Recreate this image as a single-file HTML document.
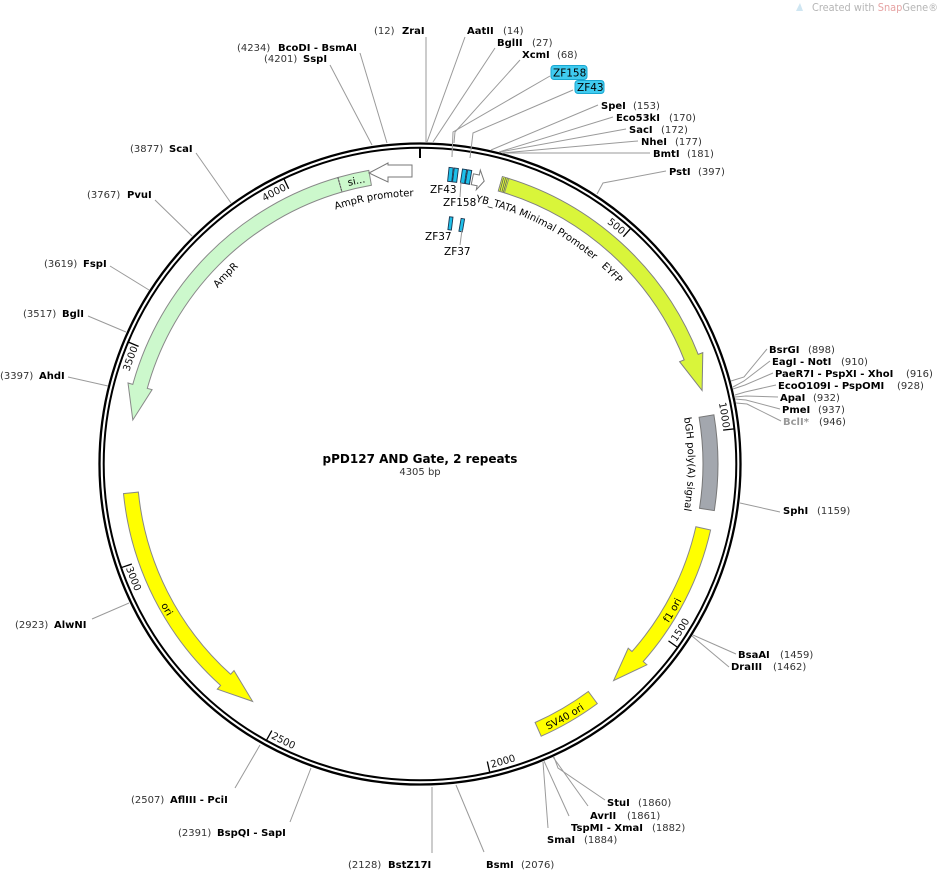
<!DOCTYPE html>
<html><head><meta charset="utf-8"><style>
html,body{margin:0;padding:0;background:#fff;}
svg{display:block;}
text{font-family:"DejaVu Sans","Liberation Sans",sans-serif;font-size:10px;}
.b{font-weight:bold;fill:#000;}
.n{fill:#333;}
.ln{stroke:#9a9a9a;stroke-width:1;fill:none;}
.ft{font-size:10px;fill:#000;}
.tk{font-size:10px;fill:#111;}
</style></head><body>
<svg width="940" height="870" viewBox="0 0 940 870" xmlns="http://www.w3.org/2000/svg">
<defs>
<path id="cw305" d="M420,159 A305,305 0 1 1 420,769 A305,305 0 1 1 420,159"/>
<path id="ccw312" d="M420,152 A312,312 0 1 0 420,776 A312,312 0 1 0 420,152"/>
<path id="cw268" d="M420,196 A268,268 0 1 1 420,732 A268,268 0 1 1 420,196"/>
<path id="cw287" d="M420,177 A287,287 0 1 1 420,751 A287,287 0 1 1 420,177"/>
<path id="ccw295" d="M420,169 A295,295 0 1 0 420,759 A295,295 0 1 0 420,169"/>
</defs>

<!-- watermark -->
<path d="M796,11 L800,3 L803,11 Z" fill="#cfe6f2"/>
<text x="812" y="11" textLength="126" lengthAdjust="spacingAndGlyphs" style="font-size:10.5px;fill:#b5b5b5">Created with <tspan fill="#e6a3a3">Snap</tspan>Gene®</text>

<!-- backbone -->
<circle cx="420" cy="464" r="320.5" fill="none" stroke="#000" stroke-width="2.3"/>
<circle cx="420" cy="464" r="316.3" fill="none" stroke="#000" stroke-width="2"/>

<!-- ticks -->
<line x1="420" y1="147" x2="420" y2="158" stroke="#000" stroke-width="2"/>
<g stroke="#000" stroke-width="1.3">
<line x1="420" y1="148" x2="420" y2="159" transform="rotate(41.81 420 464)"/>
<line x1="420" y1="148" x2="420" y2="159" transform="rotate(83.62 420 464)"/>
<line x1="420" y1="148" x2="420" y2="159" transform="rotate(125.44 420 464)"/>
<line x1="420" y1="148" x2="420" y2="159" transform="rotate(167.25 420 464)"/>
<line x1="420" y1="148" x2="420" y2="159" transform="rotate(209.06 420 464)"/>
<line x1="420" y1="148" x2="420" y2="159" transform="rotate(250.87 420 464)"/>
<line x1="420" y1="148" x2="420" y2="159" transform="rotate(292.68 420 464)"/>
<line x1="420" y1="148" x2="420" y2="159" transform="rotate(334.49 420 464)"/>
</g>
<text class="tk"><textPath href="#cw305" startOffset="220" text-anchor="end">500</textPath></text>
<text class="tk"><textPath href="#cw305" startOffset="443" text-anchor="end">1000</textPath></text>
<text class="tk"><textPath href="#ccw312" startOffset="1280">1500</textPath></text>
<text class="tk"><textPath href="#ccw312" startOffset="1052">2000</textPath></text>
<text class="tk"><textPath href="#ccw312" startOffset="824">2500</textPath></text>
<text class="tk"><textPath href="#ccw312" startOffset="596">3000</textPath></text>
<text class="tk"><textPath href="#cw305" startOffset="1556" text-anchor="end">3500</textPath></text>
<text class="tk"><textPath href="#cw305" startOffset="1778" text-anchor="end">4000</textPath></text>

<!-- features -->
<path d="M502.4,176.6 A299,299 0 0 1 698.2,354.4 L702.8,352.6 L702.1,390.5 L679.6,361.7 L684.2,359.9 A284,284 0 0 0 498.3,191.0 Z" fill="#d9f53a" stroke="#808080" stroke-width="1"/>
<path d="M502.4,176.6 L508.9,178.5 L504.5,192.8 L498.3,191.0 Z" fill="#d9f53a" stroke="#808080" stroke-width="0.8"/>
<g stroke="#555" stroke-width="0.7"><line x1="503.5" y1="178" x2="500" y2="191"/><line x1="505.5" y1="178" x2="502" y2="191.5"/><line x1="507.3" y1="178.3" x2="503.5" y2="192"/></g>
<path d="M713.9,414.8 A298,298 0 0 1 714.3,510.6 L699.5,508.3 A283,283 0 0 0 699.1,417.3 Z" fill="#a3a7ae" stroke="#777" stroke-width="1"/>
<path d="M710.6,530.0 A298,298 0 0 1 643.2,661.5 L646.9,664.8 L613.6,680.6 L628.2,648.2 L632.0,651.5 A283,283 0 0 0 695.9,526.7 Z" fill="#ffff00" stroke="#888" stroke-width="1"/>
<path d="M597.3,703.6 A298,298 0 0 1 541.2,736.2 L535.1,722.5 A283,283 0 0 0 588.3,691.5 Z" fill="#ffff00" stroke="#888" stroke-width="1"/>
<path d="M123.5,493.6 A298,298 0 0 0 220.6,685.4 L217.3,689.2 L252.6,701.4 L234.0,670.6 L230.6,674.3 A283,283 0 0 1 138.4,492.1 Z" fill="#ffff00" stroke="#888" stroke-width="1"/>
<path d="M337.9,177.5 A298,298 0 0 0 132.8,384.4 L128.0,383.0 L132.8,420.0 L152.1,389.7 L147.3,388.4 A283,283 0 0 1 342.0,192.0 Z" fill="#ccf8cc" stroke="#888" stroke-width="1"/>
<path d="M337.9,177.5 A298,298 0 0 1 368.8,170.4 L371.4,185.2 A283,283 0 0 0 342.0,192.0 Z" fill="#ccf8cc" stroke="#888" stroke-width="1"/>
<line x1="337.9" y1="177.5" x2="342.0" y2="192.0" stroke="#555" stroke-width="1" stroke-dasharray="1.5,1.5"/>
<!-- AmpR promoter arrow -->
<path d="M412,165 L412,177 L388,177 L388,182 L369,173 L388,163 L388,165 Z" fill="#fff" stroke="#777" stroke-width="1"/>
<!-- YB arrow -->
<path d="M414,169 L420,169 L420,164 L426,174 L420,184 L420,180 L414,180 Z" fill="#fff" stroke="#777" stroke-width="1" transform="rotate(11.6 420 464)"/>
<!-- ZF boxes -->
<g fill="#1ec0ea" stroke="#1a3550" stroke-width="0.9">
<rect x="417.9" y="166" width="4.2" height="14" transform="rotate(6.0 420 464)"/>
<rect x="417.9" y="166" width="4.2" height="14" transform="rotate(7.0 420 464)"/>
<rect x="417.9" y="166" width="4.2" height="14" transform="rotate(8.6 420 464)"/>
<rect x="417.9" y="166" width="4.2" height="14" transform="rotate(9.6 420 464)"/>
<rect x="418.3" y="215" width="3.5" height="13" transform="rotate(7.2 420 464)"/>
<rect x="418.3" y="215" width="3.5" height="13" transform="rotate(9.9 420 464)"/>
</g>
<line x1="461" y1="182" x2="460" y2="197" class="ln"/>
<line x1="462" y1="230" x2="460" y2="245" class="ln"/>
<text x="430" y="193" style="font-size:10.5px">ZF43</text>
<text x="443" y="206" style="font-size:10.5px">ZF158</text>
<text x="425" y="240" style="font-size:10.5px">ZF37</text>
<text x="444" y="255" style="font-size:10.5px">ZF37</text>

<!-- feature labels -->
<text class="ft"><textPath href="#cw268" startOffset="56">YB_TATA Minimal Promoter</textPath></text>
<text class="ft"><textPath href="#cw268" startOffset="211" text-anchor="middle">EYFP</textPath></text>
<text class="ft"><textPath href="#cw268" startOffset="1637" text-anchor="middle">AmpR promoter</textPath></text>
<text class="ft"><textPath href="#cw268" startOffset="1469" text-anchor="middle">AmpR</textPath></text>
<text class="ft"><textPath href="#cw268" startOffset="421" text-anchor="middle">bGH poly(A) signal</textPath></text>
<text class="ft"><textPath href="#cw287" startOffset="1739" text-anchor="middle">si...</textPath></text>
<text class="ft"><textPath href="#ccw295" startOffset="1235" text-anchor="middle">f1 ori</textPath></text>
<text class="ft"><textPath href="#ccw295" startOffset="617" text-anchor="middle">ori</textPath></text>
<text class="ft"><textPath href="#ccw295" startOffset="1080" text-anchor="middle">SV40 ori</textPath></text>

<!-- title -->
<text x="420" y="463" text-anchor="middle" style="font-size:12px;font-weight:bold">pPD127 AND Gate, 2 repeats</text>
<text x="420" y="475" text-anchor="middle" style="font-size:10px;fill:#333">4305 bp</text>

<!-- enzyme lines -->
<g class="ln">
<polyline points="360,53 387,143"/>
<polyline points="330,65 372,145"/>
<polyline points="426,37 426,142"/>
<polyline points="465,37 427,142"/>
<polyline points="495,48 433,142"/>
<polyline points="520,60 455,132 454,143"/>
<polyline points="550,76 453,132 452,157"/>
<polyline points="573,90 473,133 470,158"/>
<polyline points="598,105 491,150"/>
<polyline points="613,117 499,152"/>
<polyline points="626,129 500,152"/>
<polyline points="638,141 502,153"/>
<polyline points="650,153 504,153"/>
<polyline points="666,171 603,183 597,194"/>
<polyline points="767,349 744,377 731,381"/>
<polyline points="770,361 744,381 733,387"/>
<polyline points="773,373 745,385 733,389"/>
<polyline points="776,385 745,392 735,395"/>
<polyline points="778,397 746,396 735,397"/>
<polyline points="780,409 746,400 735,399"/>
<polyline points="781,421 747,404 736,403"/>
<polyline points="780,512 740,503"/>
<polyline points="736,654 693,635"/>
<polyline points="729,667 692,636"/>
<polyline points="605,800 558,768 554,757"/>
<polyline points="588,806 553,757"/>
<polyline points="569,816 544,761"/>
<polyline points="548,828 543,762"/>
<polyline points="484,852 456,785"/>
<polyline points="432,853 432,787"/>
<polyline points="290,822 311,768"/>
<polyline points="235,788 260,745"/>
<polyline points="92,619 129,603"/>
<polyline points="68,377 108,386"/>
<polyline points="88,316 126,332"/>
<polyline points="110,266 149,290"/>
<polyline points="155,200 192,236"/>
<polyline points="196,153 231,203"/>
</g>

<!-- enzyme labels -->
<text x="237" y="51" class="n">(4234)</text><text x="278" y="51" class="b">BcoDI - BsmAI</text>
<text x="264" y="62" class="n">(4201)</text><text x="303" y="62" class="b">SspI</text>
<text x="374" y="34" class="n">(12)</text><text x="402" y="34" class="b">ZraI</text>
<text x="467" y="34" class="b">AatII</text><text x="503" y="34" class="n">(14)</text>
<text x="497" y="46" class="b">BglII</text><text x="532" y="46" class="n">(27)</text>
<text x="522" y="58" class="b">XcmI</text><text x="557" y="58" class="n">(68)</text>
<rect x="551" y="65.5" width="36" height="14" rx="3" fill="#3fcbf0" stroke="#1aa6d0" stroke-width="1"/>
<text x="553" y="76.5" style="font-size:10.5px">ZF158</text>
<rect x="575" y="80.5" width="29" height="13" rx="3" fill="#3fcbf0" stroke="#1aa6d0" stroke-width="1"/>
<text x="577" y="91" style="font-size:10.5px">ZF43</text>
<text x="601" y="109" class="b">SpeI</text><text x="633" y="109" class="n">(153)</text>
<text x="616" y="121" class="b">Eco53kI</text><text x="669" y="121" class="n">(170)</text>
<text x="629" y="133" class="b">SacI</text><text x="661" y="133" class="n">(172)</text>
<text x="641" y="145" class="b">NheI</text><text x="675" y="145" class="n">(177)</text>
<text x="653" y="157" class="b">BmtI</text><text x="687" y="157" class="n">(181)</text>
<text x="669" y="175" class="b">PstI</text><text x="698" y="175" class="n">(397)</text>
<text x="769" y="353" class="b">BsrGI</text><text x="808" y="353" class="n">(898)</text>
<text x="772" y="365" class="b">EagI - NotI</text><text x="841" y="365" class="n">(910)</text>
<text x="775" y="377" class="b">PaeR7I - PspXI - XhoI</text><text x="906" y="377" class="n">(916)</text>
<text x="778" y="389" class="b">EcoO109I - PspOMI</text><text x="897" y="389" class="n">(928)</text>
<text x="780" y="401" class="b">ApaI</text><text x="813" y="401" class="n">(932)</text>
<text x="782" y="413" class="b">PmeI</text><text x="818" y="413" class="n">(937)</text>
<text x="783" y="425" class="b" style="fill:#999">BclI*</text><text x="819" y="425" class="n">(946)</text>
<text x="783" y="514" class="b">SphI</text><text x="817" y="514" class="n">(1159)</text>
<text x="738" y="658" class="b">BsaAI</text><text x="780" y="658" class="n">(1459)</text>
<text x="731" y="670" class="b">DraIII</text><text x="773" y="670" class="n">(1462)</text>
<text x="607" y="806" class="b">StuI</text><text x="638" y="806" class="n">(1860)</text>
<text x="590" y="819" class="b">AvrII</text><text x="627" y="819" class="n">(1861)</text>
<text x="571" y="831" class="b">TspMI - XmaI</text><text x="652" y="831" class="n">(1882)</text>
<text x="547" y="843" class="b">SmaI</text><text x="584" y="843" class="n">(1884)</text>
<text x="486" y="868" class="b">BsmI</text><text x="521" y="868" class="n">(2076)</text>
<text x="348" y="868" class="n">(2128)</text><text x="388" y="868" class="b">BstZ17I</text>
<text x="178" y="836" class="n">(2391)</text><text x="217" y="836" class="b">BspQI - SapI</text>
<text x="131" y="803" class="n">(2507)</text><text x="170" y="803" class="b">AflIII - PciI</text>
<text x="15" y="628" class="n">(2923)</text><text x="54" y="628" class="b">AlwNI</text>
<text x="0" y="379" class="n">(3397)</text><text x="39" y="379" class="b">AhdI</text>
<text x="23" y="317" class="n">(3517)</text><text x="62" y="317" class="b">BglI</text>
<text x="44" y="267" class="n">(3619)</text><text x="83" y="267" class="b">FspI</text>
<text x="87" y="198" class="n">(3767)</text><text x="127" y="198" class="b">PvuI</text>
<text x="130" y="152" class="n">(3877)</text><text x="169" y="152" class="b">ScaI</text>
</svg>
</body></html>
